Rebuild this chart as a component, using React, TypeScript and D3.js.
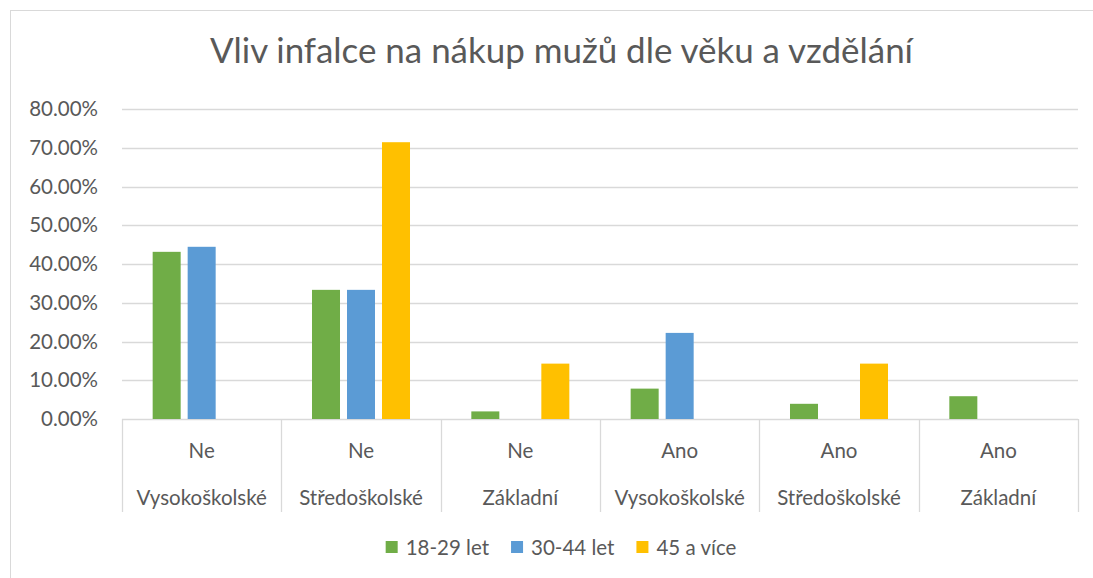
import React, { useEffect, useRef } from "react";
import * as d3 from "d3";

const answers = ["Ne", "Ne", "Ne", "Ano", "Ano", "Ano"];
const education = ["Vysokoškolské", "Středoškolské", "Základní", "Vysokoškolské", "Středoškolské", "Základní"];
const seriesNames = ["18-29 let", "30-44 let", "45 a více"];
const young = [43.14, 33.33, 1.96, 7.84, 3.92, 5.88];
const middle = [44.44, 33.33, 0, 22.22, 0, 0];
const older = [0, 71.43, 14.29, 0, 14.29, 0];
const yTicks = [0, 10, 20, 30, 40, 50, 60, 70, 80];
const colors = ["#70AD47", "#5B9BD5", "#FFC000"];

const W = 1093;
const H = 578;

export default function App() {
  const ref = useRef<SVGSVGElement>(null);

  useEffect(() => {
    const svg = d3.select(ref.current);
    svg.selectAll("*").remove();
    const font = "Lato, 'Open Sans', sans-serif";
    const textColor = "#595959";
    const gridColor = "#d9d9d9";

    const margin = { top: 109, right: 15, bottom: 159, left: 122 };
    const idx = d3.range(answers.length).map(String);
    const series = [young, middle, older];

    const x0 = d3.scaleBand().domain(idx).range([margin.left, W - margin.right]);
    const x1 = d3
      .scaleBand()
      .domain(seriesNames)
      .range([0, x0.bandwidth()])
      .paddingInner(0.2)
      .paddingOuter(0.876);
    const y = d3.scaleLinear().domain([0, 80]).range([H - margin.bottom, margin.top]);

    // outer border
    svg
      .append("rect")
      .attr("x", 10.5)
      .attr("y", 10.5)
      .attr("width", W + 10)
      .attr("height", H + 10)
      .attr("fill", "white")
      .attr("stroke", gridColor);

    // title
    svg
      .append("text")
      .attr("x", 561.5)
      .attr("y", 63)
      .attr("text-anchor", "middle")
      .attr("font-family", font)
      .attr("font-size", 34)
      .attr("fill", textColor)
      .attr("textLength", 703)
      .attr("lengthAdjust", "spacingAndGlyphs")
      .text("Vliv infalce na nákup mužů dle věku a vzdělání");

    // gridlines
    svg
      .append("g")
      .selectAll("line")
      .data(yTicks)
      .enter()
      .append("line")
      .attr("x1", margin.left)
      .attr("x2", W - margin.right)
      .attr("y1", (d) => Math.round(y(d)) + 0.5)
      .attr("y2", (d) => Math.round(y(d)) + 0.5)
      .attr("stroke", gridColor)
      .attr("stroke-width", 1.3);

    // y labels
    svg
      .append("g")
      .selectAll("text")
      .data(yTicks)
      .enter()
      .append("text")
      .attr("x", 98)
      .attr("y", (d) => y(d) + 7)
      .attr("text-anchor", "end")
      .attr("font-family", font)
      .attr("font-size", 20.5)
      .attr("fill", textColor)
      .text((d) => d.toFixed(2) + "%");

    // bars
    const groups = svg
      .append("g")
      .selectAll("g")
      .data(idx)
      .enter()
      .append("g")
      .attr("transform", (d) => `translate(${x0(d)},0)`);

    groups
      .selectAll("rect")
      .data((d) => seriesNames.map((s, j) => ({ s, j, v: series[j][+d] })))
      .enter()
      .append("rect")
      .attr("x", (d) => x1(d.s)!)
      .attr("y", (d) => y(d.v))
      .attr("width", x1.bandwidth())
      .attr("height", (d) => y(0) - y(d.v))
      .attr("fill", (d) => colors[d.j]);

    // category separators
    const bounds = idx.map((d) => x0(d)!).concat([W - margin.right]);
    svg
      .append("g")
      .selectAll("line")
      .data(bounds)
      .enter()
      .append("line")
      .attr("x1", (d) => Math.round(d) + 0.5)
      .attr("x2", (d) => Math.round(d) + 0.5)
      .attr("y1", y(0))
      .attr("y2", 512)
      .attr("stroke", gridColor)
      .attr("stroke-width", 1.3);

    // category labels
    const labels = svg.append("g");
    idx.forEach((d, i) => {
      const cx = x0(d)! + x0.bandwidth() / 2;
      labels
        .append("text")
        .attr("x", cx)
        .attr("y", 458)
        .attr("text-anchor", "middle")
        .attr("font-family", font)
        .attr("font-size", 20.5)
        .attr("fill", textColor)
        .text(answers[i]);
      labels
        .append("text")
        .attr("x", cx)
        .attr("y", 505)
        .attr("text-anchor", "middle")
        .attr("font-family", font)
        .attr("font-size", 20.5)
        .attr("fill", textColor)
        .text(education[i]);
    });

    // legend
    const legend = svg.append("g");
    let lx = 0;
    seriesNames.forEach((s, j) => {
      const item = legend.append("g").attr("transform", `translate(${lx},0)`);
      item
        .append("rect")
        .attr("x", 0)
        .attr("y", 541)
        .attr("width", 12)
        .attr("height", 12)
        .attr("fill", colors[j]);
      const t = item
        .append("text")
        .attr("x", 20)
        .attr("y", 555)
        .attr("font-family", font)
        .attr("font-size", 20.5)
        .attr("fill", textColor)
        .text(s);
      const tw = (t.node() as SVGTextElement).getComputedTextLength();
      lx += 20 + tw + 22;
    });
    const total = lx - 22;
    legend.attr("transform", `translate(${561 - total / 2},0)`);
  }, []);

  return (
    <svg
      ref={ref}
      width={W}
      height={H}
      style={{ position: "absolute", left: 0, top: 0, background: "white" }}
    />
  );
}
